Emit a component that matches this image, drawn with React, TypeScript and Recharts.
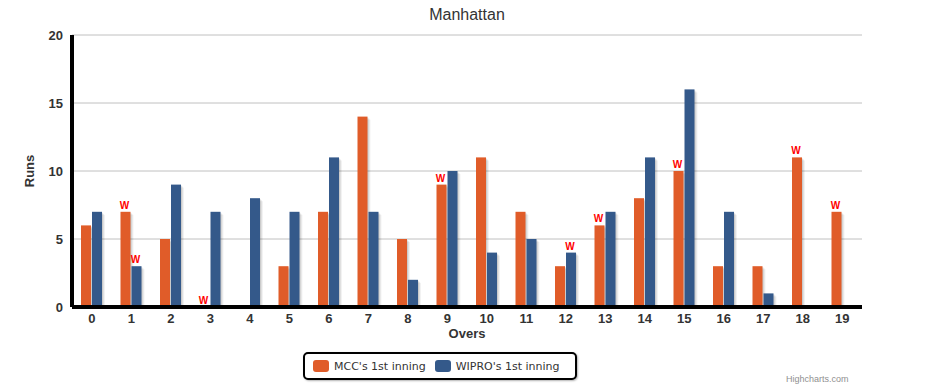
import React from 'react';
import { BarChart, Bar, XAxis, YAxis, CartesianGrid, LabelList, Label } from 'recharts';

const overs = ['0','1','2','3','4','5','6','7','8','9','10','11','12','13','14','15','16','17','18','19'];
const mccRuns = [6,7,5,0,0,3,7,14,5,9,11,7,3,6,8,10,3,3,11,7];
const wiproRuns = [7,3,9,7,8,7,11,7,2,10,4,5,4,7,11,16,7,1,0,0];
const mccWicketOvers = [1,3,9,13,15,18,19];
const wiproWicketOvers = [1,12];
const yTicks = [0,5,10,15,20];

const MCC_COLOR = '#E05C29';
const WIPRO_COLOR = '#34598A';

const data = overs.map((o, i) => ({
  over: o,
  mcc: mccRuns[i],
  wipro: wiproRuns[i],
  mccW: mccWicketOvers.includes(i) ? 'W' : '',
  wiproW: wiproWicketOvers.includes(i) ? 'W' : '',
}));

const ShadowBar = (props: any) => {
  const { x, y, width, height, fill } = props;
  if (!height || height <= 0) return <g />;
  return (
    <g>
      <rect x={x + 3} y={y + 3} width={width} height={height - 3} fill="#000" fillOpacity={0.05} />
      <rect x={x + 2} y={y + 2} width={width} height={height - 2} fill="#000" fillOpacity={0.07} />
      <rect x={x + 1} y={y + 1} width={width} height={height - 1} fill="#000" fillOpacity={0.09} />
      <rect x={x} y={y} width={width} height={height} fill={fill} />
    </g>
  );
};

const WicketLabel = (props: any) => {
  const { x, y, width, value } = props;
  if (value !== 'W') return null;
  return (
    <text x={x + width / 2 - 1} y={y - 3} textAnchor="middle" fill="#FF0000" fontSize={10} fontWeight="bold" fontFamily="Liberation Sans, Arial, sans-serif">W</text>
  );
};

const tickStyle = { fill: '#333333', fontSize: 13, fontWeight: 'bold', fontFamily: 'Liberation Sans, Arial, sans-serif' } as any;

export default function App() {
  return (
    <div style={{ position: 'absolute', left: 0, top: 0, width: 947, height: 386, background: '#fff', overflow: 'hidden' }}>
      <BarChart width={947} height={386} data={data} margin={{ top: 35, right: 85, bottom: 49, left: 0 }} barSize={10} barGap={1}>
        <text x={467} y={20} textAnchor="middle" fill="#333333" fontSize={16} fontFamily="Liberation Sans, Arial, sans-serif">Manhattan</text>
        <CartesianGrid vertical={false} stroke="#C0C0C0" strokeWidth={1} />
        <XAxis dataKey="over" height={30} tickLine={false} tickSize={0} tickMargin={7} axisLine={{ stroke: '#000', strokeWidth: 4 }} tick={tickStyle} interval={0}>
          <Label content={() => (
            <text x={467} y={338} textAnchor="middle" fill="#333333" fontSize={13} fontWeight="bold" fontFamily="Liberation Sans, Arial, sans-serif">Overs</text>
          )} />
        </XAxis>
        <YAxis width={72} domain={[0, 20]} ticks={yTicks} tickLine={false} tickSize={0} tickMargin={9} axisLine={{ stroke: '#000', strokeWidth: 4 }} tick={tickStyle} interval={0}>
          <Label content={() => (
            <text x={34} y={171} textAnchor="middle" transform="rotate(-90 34 171)" fill="#333333" fontSize={13} fontWeight="bold" fontFamily="Liberation Sans, Arial, sans-serif">Runs</text>
          )} />
        </YAxis>
        <Bar dataKey="mcc" name="MCC's 1st inning" fill={MCC_COLOR} shape={ShadowBar} isAnimationActive={false}>
          <LabelList dataKey="mccW" content={WicketLabel} />
        </Bar>
        <Bar dataKey="wipro" name="WIPRO's 1st inning" fill={WIPRO_COLOR} shape={ShadowBar} isAnimationActive={false}>
          <LabelList dataKey="wiproW" content={WicketLabel} />
        </Bar>
        <text x={786} y={382} fill="#909090" fontSize={9} fontFamily="Liberation Sans, Arial, sans-serif">Highcharts.com</text>
      </BarChart>
      <div style={{ position: 'absolute', left: 303, top: 352, width: 270, height: 24, border: '2px solid #000', borderRadius: 5, boxShadow: '1px 1px 2px rgba(0,0,0,0.3)', display: 'flex', alignItems: 'center', fontFamily: 'DejaVu Sans, Verdana, sans-serif', fontSize: 11, color: '#333', background: '#fff' }}>
        <span style={{ display: 'inline-block', width: 16, height: 12, background: MCC_COLOR, borderRadius: 3, marginLeft: 8 }} />
        <span style={{ marginLeft: 5 }}>MCC's 1st inning</span>
        <span style={{ display: 'inline-block', width: 16, height: 12, background: WIPRO_COLOR, borderRadius: 3, marginLeft: 9 }} />
        <span style={{ marginLeft: 5 }}>WIPRO's 1st inning</span>
      </div>
    </div>
  );
}
